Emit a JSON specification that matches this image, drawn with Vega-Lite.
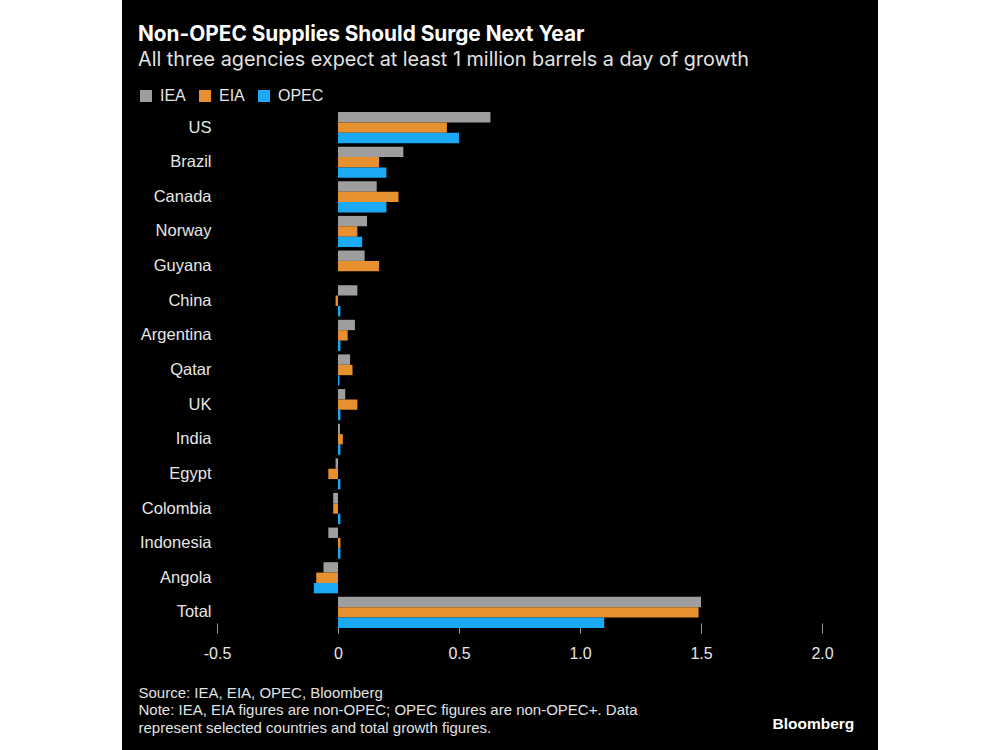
{
  "$schema": "https://vega.github.io/schema/vega-lite/v6.json",
  "width": 756,
  "height": 750,
  "autosize": {"type": "none"},
  "padding": {"left": 122, "right": 122, "top": 0, "bottom": 0},
  "background": "white",
  "view": {"fill": "black", "stroke": null},
  "config": {"font": "Liberation Sans"},
  "title": {
    "text": "Non-OPEC Supplies Should Surge Next Year",
    "subtitle": "All three agencies expect at least 1 million barrels a day of growth",
    "anchor": "start",
    "frame": "group",
    "orient": "top",
    "offset": -71,
    "dx": 16,
    "font": "Inter",
    "fontSize": 20.8,
    "fontWeight": "bold",
    "color": "white",
    "subtitleFont": "Inter",
    "subtitleFontSize": 19.8,
    "subtitleColor": "#e2e2e2",
    "subtitlePadding": 4
  },
  "data": {
    "values": [
      {"country": "US", "agency": "IEA", "value": 0.63},
      {"country": "US", "agency": "EIA", "value": 0.45},
      {"country": "US", "agency": "OPEC", "value": 0.50},
      {"country": "Brazil", "agency": "IEA", "value": 0.27},
      {"country": "Brazil", "agency": "EIA", "value": 0.17},
      {"country": "Brazil", "agency": "OPEC", "value": 0.20},
      {"country": "Canada", "agency": "IEA", "value": 0.16},
      {"country": "Canada", "agency": "EIA", "value": 0.25},
      {"country": "Canada", "agency": "OPEC", "value": 0.20},
      {"country": "Norway", "agency": "IEA", "value": 0.12},
      {"country": "Norway", "agency": "EIA", "value": 0.08},
      {"country": "Norway", "agency": "OPEC", "value": 0.10},
      {"country": "Guyana", "agency": "IEA", "value": 0.11},
      {"country": "Guyana", "agency": "EIA", "value": 0.17},
      {"country": "China", "agency": "IEA", "value": 0.08},
      {"country": "China", "agency": "EIA", "value": -0.01},
      {"country": "China", "agency": "OPEC", "value": 0.01},
      {"country": "Argentina", "agency": "IEA", "value": 0.07},
      {"country": "Argentina", "agency": "EIA", "value": 0.04},
      {"country": "Argentina", "agency": "OPEC", "value": 0.01},
      {"country": "Qatar", "agency": "IEA", "value": 0.05},
      {"country": "Qatar", "agency": "EIA", "value": 0.06},
      {"country": "Qatar", "agency": "OPEC", "value": 0.006},
      {"country": "UK", "agency": "IEA", "value": 0.03},
      {"country": "UK", "agency": "EIA", "value": 0.08},
      {"country": "UK", "agency": "OPEC", "value": 0.01},
      {"country": "India", "agency": "IEA", "value": 0.008},
      {"country": "India", "agency": "EIA", "value": 0.02},
      {"country": "India", "agency": "OPEC", "value": 0.01},
      {"country": "Egypt", "agency": "IEA", "value": -0.01},
      {"country": "Egypt", "agency": "EIA", "value": -0.04},
      {"country": "Egypt", "agency": "OPEC", "value": 0.01},
      {"country": "Colombia", "agency": "IEA", "value": -0.02},
      {"country": "Colombia", "agency": "EIA", "value": -0.02},
      {"country": "Colombia", "agency": "OPEC", "value": 0.01},
      {"country": "Indonesia", "agency": "IEA", "value": -0.04},
      {"country": "Indonesia", "agency": "EIA", "value": 0.01},
      {"country": "Indonesia", "agency": "OPEC", "value": 0.01},
      {"country": "Angola", "agency": "IEA", "value": -0.06},
      {"country": "Angola", "agency": "EIA", "value": -0.09},
      {"country": "Angola", "agency": "OPEC", "value": -0.10},
      {"country": "Total", "agency": "IEA", "value": 1.50},
      {"country": "Total", "agency": "EIA", "value": 1.49},
      {"country": "Total", "agency": "OPEC", "value": 1.10}
    ]
  },
  "mark": {"type": "bar"},
  "encoding": {
    "y": {
      "field": "country",
      "type": "nominal",
      "sort": ["US", "Brazil", "Canada", "Norway", "Guyana", "China", "Argentina", "Qatar", "UK", "India", "Egypt", "Colombia", "Indonesia", "Angola", "Total"],
      "scale": {"range": [112, 628], "paddingInner": 0.1, "paddingOuter": 0},
      "axis": {
        "orient": "left",
        "offset": -94,
        "domain": false,
        "ticks": false,
        "grid": false,
        "labelPadding": 5,
        "labelFontSize": 16.5,
        "labelColor": "#e6e6e6",
        "labelFont": "Liberation Sans",
        "title": "Bloomberg",
        "titleAngle": 0,
        "titleX": 556,
        "titleY": 728,
        "titleAlign": "left",
        "titleBaseline": "alphabetic",
        "titleFontSize": 15.5,
        "titleFontWeight": "bold",
        "titleColor": "white",
        "titleFont": "Liberation Sans"
      }
    },
    "yOffset": {
      "field": "agency",
      "type": "nominal",
      "sort": ["IEA", "EIA", "OPEC"],
      "scale": {"domain": ["IEA", "EIA", "OPEC"], "paddingInner": 0, "paddingOuter": 0}
    },
    "x": {
      "field": "value",
      "type": "quantitative",
      "scale": {"domain": [-0.8926, 2.2314], "nice": false},
      "axis": {
        "orient": "bottom",
        "offset": -127,
        "values": [-0.5, 0, 0.5, 1, 1.5, 2],
        "labelExpr": "datum.value == 0 ? '0' : datum.value < 0 ? '-0.5' : format(datum.value, '.1f')",
        "domain": false,
        "grid": false,
        "ticks": true,
        "tickColor": "#9a9a9a",
        "tickSize": 10,
        "labelPadding": 12,
        "labelFontSize": 16,
        "labelColor": "#e6e6e6",
        "labelFont": "Liberation Sans",
        "title": ["Source: IEA, EIA, OPEC, Bloomberg", "Note: IEA, EIA figures are non-OPEC; OPEC figures are non-OPEC+. Data", "represent selected countries and total growth figures."],
        "titleX": 16,
        "titleY": 74,
        "titleAlign": "left",
        "titleAnchor": "start",
        "titleBaseline": "alphabetic",
        "titleFontSize": 15,
        "titleFontWeight": "normal",
        "titleColor": "#e2e2e2",
        "titleFont": "Liberation Sans",
        "titleLineHeight": 17.5
      }
    },
    "color": {
      "field": "agency",
      "type": "nominal",
      "scale": {"domain": ["IEA", "EIA", "OPEC"], "range": ["#9e9e9e", "#e6902f", "#1aa9f2"]},
      "legend": {
        "orient": "none",
        "legendX": 16,
        "legendY": 88,
        "direction": "horizontal",
        "title": null,
        "symbolType": "square",
        "symbolSize": 144,
        "symbolStrokeWidth": 0,
        "symbolOpacity": 1,
        "labelFontSize": 16,
        "labelColor": "#e6e6e6",
        "labelFont": "Liberation Sans",
        "labelOffset": 6,
        "columnPadding": 11,
        "padding": 0
      }
    }
  }
}
